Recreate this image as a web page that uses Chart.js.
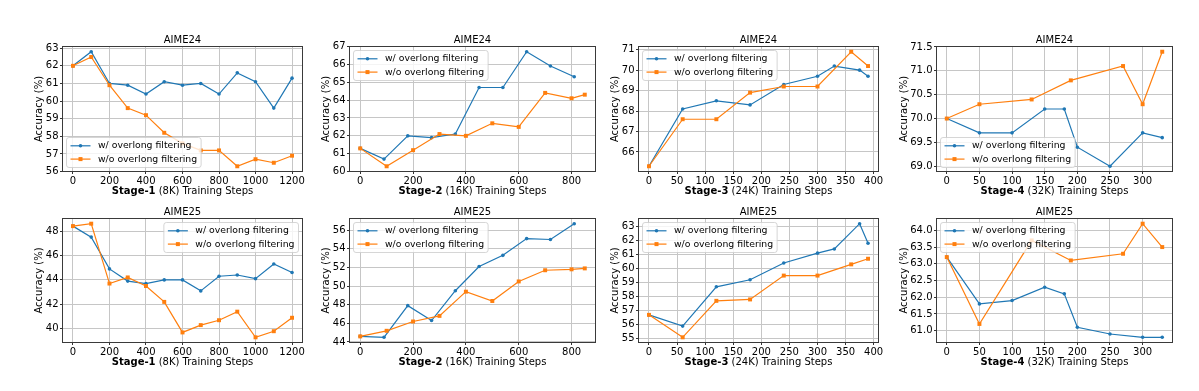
<!DOCTYPE html>
<html>
<head>
<meta charset="utf-8">
<script src="https://cdn.jsdelivr.net/npm/chart.js@4"></script>
<style>
  body { margin: 0; background: #fff; }
  #fig { position: relative; width: 1199px; height: 391px; overflow: hidden; background: #fff; }
  .panel { position: absolute; }
</style>
</head>
<body>
<div id="fig"></div>
<script>
// training steps per stage (x values)
const stage1Steps = [0, 100, 200, 300, 400, 500, 600, 700, 800, 900, 1000, 1100, 1200];
const stage2StepsWith = [0, 90, 180, 270, 360, 450, 540, 630, 720, 810];
const stage2StepsWithout = [0, 100, 200, 300, 400, 500, 600, 700, 800, 850];
const stage3StepsWith = [0, 60, 120, 180, 240, 300, 330, 375, 390];
const stage3StepsWithout = [0, 60, 120, 180, 240, 300, 360, 390];
const stage4StepsWith = [0, 50, 100, 150, 180, 200, 250, 300, 330];
const stage4StepsWithout = [0, 50, 130, 190, 270, 300, 330];

// accuracy (%) - AIME24
const s1Aime24With = [62.0, 62.8, 61.0, 60.9, 60.4, 61.1, 60.9, 61.0, 60.4, 61.6, 61.1, 59.6, 61.3];
const s1Aime24Without = [62.0, 62.5, 60.9, 59.6, 59.2, 58.2, 57.6, 57.2, 57.2, 56.3, 56.7, 56.5, 56.9];
const s2Aime24With = [61.3, 60.7, 62.0, 61.9, 62.1, 64.7, 64.7, 66.7, 65.9, 65.3];
const s2Aime24Without = [61.3, 60.3, 61.2, 62.1, 62.0, 62.7, 62.5, 64.4, 64.1, 64.3];
const s3Aime24With = [65.3, 68.1, 68.5, 68.3, 69.3, 69.7, 70.2, 70.0, 69.7];
const s3Aime24Without = [65.3, 67.6, 67.6, 68.9, 69.2, 69.2, 70.9, 70.2];
const s4Aime24With = [70.0, 69.7, 69.7, 70.2, 70.2, 69.4, 69.0, 69.7, 69.6];
const s4Aime24Without = [70.0, 70.3, 70.4, 70.8, 71.1, 70.3, 71.4];

// accuracy (%) - AIME25
const s1Aime25With = [48.4, 47.5, 44.9, 43.9, 43.7, 44.0, 44.0, 43.1, 44.3, 44.4, 44.1, 45.3, 44.6];
const s1Aime25Without = [48.4, 48.6, 43.7, 44.2, 43.5, 42.2, 39.7, 40.3, 40.7, 41.4, 39.3, 39.8, 40.9];
const s2Aime25With = [44.6, 44.5, 47.9, 46.3, 49.5, 52.1, 53.3, 55.1, 55.0, 56.7];
const s2Aime25Without = [44.6, 45.2, 46.2, 46.8, 49.4, 48.4, 50.5, 51.7, 51.8, 51.9];
const s3Aime25With = [56.7, 55.9, 58.7, 59.2, 60.4, 61.1, 61.4, 63.2, 61.8];
const s3Aime25Without = [56.7, 55.1, 57.7, 57.8, 59.5, 59.5, 60.3, 60.7];
const s4Aime25With = [63.2, 61.8, 61.9, 62.3, 62.1, 61.1, 60.9, 60.8, 60.8];
const s4Aime25Without = [63.2, 61.2, 63.7, 63.1, 63.3, 64.2, 63.5];

const seriesLabels = ['w/ overlong filtering', 'w/o overlong filtering'];
const benchmarks = ['AIME24', 'AIME25'];
const stageNames = ['Stage-1', 'Stage-2', 'Stage-3', 'Stage-4'];
const stageContexts = [' (8K) Training Steps', ' (16K) Training Steps', ' (24K) Training Steps', ' (32K) Training Steps'];

const BLUE = '#1f77b4';
const ORANGE = '#ff7f0e';
const FONT = '"DejaVu Sans", sans-serif';

Chart.defaults.font.family = FONT;
Chart.defaults.font.size = 10;
Chart.defaults.color = '#000';

// plot area of each column / row in the figure
const colLeft = [62, 349, 638, 936];
const colRight = [303, 596, 879, 1173];
const rowTop = [46, 218];
const rowBottom = [172, 343];
const YW = 60, PT = 20, PR = 8, XH = 30;

const panels = [
  { row: 0, col: 0, x: [stage1Steps, stage1Steps], y: [s1Aime24With, s1Aime24Without], xStep: 200, yStep: 1, dec: 0, legend: 'll' },
  { row: 0, col: 1, x: [stage2StepsWith, stage2StepsWithout], y: [s2Aime24With, s2Aime24Without], xStep: 200, yStep: 1, dec: 0, legend: 'ul' },
  { row: 0, col: 2, x: [stage3StepsWith, stage3StepsWithout], y: [s3Aime24With, s3Aime24Without], xStep: 50, yStep: 1, dec: 0, legend: 'ul' },
  { row: 0, col: 3, x: [stage4StepsWith, stage4StepsWithout], y: [s4Aime24With, s4Aime24Without], xStep: 50, yStep: 0.5, dec: 1, legend: 'll' },
  { row: 1, col: 0, x: [stage1Steps, stage1Steps], y: [s1Aime25With, s1Aime25Without], xStep: 200, yStep: 2, dec: 0, legend: 'ur' },
  { row: 1, col: 1, x: [stage2StepsWith, stage2StepsWithout], y: [s2Aime25With, s2Aime25Without], xStep: 200, yStep: 2, dec: 0, legend: 'ul' },
  { row: 1, col: 2, x: [stage3StepsWith, stage3StepsWithout], y: [s3Aime25With, s3Aime25Without], xStep: 50, yStep: 1, dec: 0, legend: 'ul' },
  { row: 1, col: 3, x: [stage4StepsWith, stage4StepsWithout], y: [s4Aime25With, s4Aime25Without], xStep: 50, yStep: 0.5, dec: 1, legend: 'ul' },
];

function padRange(vals) {
  const lo = Math.min(...vals), hi = Math.max(...vals);
  const m = (hi - lo) * 0.05;
  return [lo - m, hi + m];
}

function drawMarker(ctx, style, x, y, color) {
  ctx.fillStyle = color;
  if (style === 'rect') {
    ctx.fillRect(x - 2, y - 2, 4, 4);
  } else {
    ctx.beginPath();
    ctx.arc(x, y, 1.8, 0, Math.PI * 2);
    ctx.fill();
  }
}

// frame, titles and the in-axes legend (matplotlib look)
const panelDecor = {
  id: 'panelDecor',
  afterDraw(chart, args, opts) {
    const { ctx, chartArea: a } = chart;
    ctx.save();

    ctx.strokeStyle = '#3a3a3a';
    ctx.lineWidth = 1;
    ctx.strokeRect(Math.round(a.left) + 0.5, Math.round(a.top) + 0.5,
      Math.round(a.right - a.left) - 1, Math.round(a.bottom - a.top) - 1);

    ctx.fillStyle = '#000';
    ctx.font = '10px ' + FONT;
    ctx.textAlign = 'center';
    ctx.textBaseline = 'alphabetic';
    ctx.fillText(opts.title, (a.left + a.right) / 2, a.top - 3);

    // y title
    const yScale = chart.scales.y;
    let labW = 0;
    yScale.ticks.forEach(t => { labW = Math.max(labW, ctx.measureText(t.label).width); });
    const yx = a.left - 3.5 - labW - 6.2;
    ctx.save();
    ctx.translate(yx, (a.top + a.bottom) / 2);
    ctx.rotate(-Math.PI / 2);
    ctx.textBaseline = 'middle';
    ctx.fillText('Accuracy (%)', 0, 0);
    ctx.restore();

    // x title: bold stage name + normal rest
    ctx.font = 'bold 10px ' + FONT;
    const w1 = ctx.measureText(opts.xBold).width;
    ctx.font = '10px ' + FONT;
    const w2 = ctx.measureText(opts.xRest).width;
    const x0 = (a.left + a.right) / 2 - (w1 + w2) / 2;
    const by = a.bottom + 21.5;
    ctx.textAlign = 'left';
    ctx.font = 'bold 10px ' + FONT;
    ctx.fillText(opts.xBold, x0, by);
    ctx.font = '10px ' + FONT;
    ctx.fillText(opts.xRest, x0 + w1, by);

    // legend
    ctx.font = '9.3px ' + FONT;
    const tw = Math.max(...seriesLabels.map(s => ctx.measureText(s).width));
    const pad = 4, handle = 20, gap = 7.5, rowH = 13.3, inset = 4.5;
    const bw = pad + handle + gap + tw + pad;
    const bh = 30;
    const bx = opts.legend === 'ur' ? a.right - inset - bw : a.left + inset;
    const byTop = opts.legend === 'll' ? a.bottom - inset - bh : a.top + inset;
    ctx.beginPath();
    ctx.roundRect(bx, byTop, bw, bh, 2.5);
    ctx.fillStyle = 'rgba(255,255,255,0.8)';
    ctx.fill();
    ctx.strokeStyle = '#cccccc';
    ctx.lineWidth = 0.8;
    ctx.stroke();
    const cols = [BLUE, ORANGE], styles = ['circle', 'rect'];
    seriesLabels.forEach((s, i) => {
      const ry = byTop + 8.3 + i * rowH;
      ctx.strokeStyle = cols[i];
      ctx.lineWidth = 1.2;
      ctx.beginPath();
      ctx.moveTo(bx + pad, ry);
      ctx.lineTo(bx + pad + handle, ry);
      ctx.stroke();
      drawMarker(ctx, styles[i], bx + pad + handle / 2, ry, cols[i]);
      ctx.fillStyle = '#000';
      ctx.textBaseline = 'middle';
      ctx.fillText(s, bx + pad + handle + gap, ry);
    });
    ctx.restore();
  }
};

const fig = document.getElementById('fig');

panels.forEach(p => {
  const L = colLeft[p.col], R = colRight[p.col], T = rowTop[p.row], B = rowBottom[p.row];
  const box = document.createElement('div');
  box.className = 'panel';
  box.style.left = (L - YW) + 'px';
  box.style.top = (T - PT) + 'px';
  box.style.width = (YW + (R - L) + PR) + 'px';
  box.style.height = (PT + (B - T) + XH) + 'px';
  const cv = document.createElement('canvas');
  box.appendChild(cv);
  fig.appendChild(box);

  const xr = padRange(p.x[0].concat(p.x[1]));
  const yr = padRange(p.y[0].concat(p.y[1]));

  new Chart(cv, {
    type: 'line',
    data: {
      datasets: [
        {
          label: seriesLabels[0],
          data: p.x[0].map((v, i) => ({ x: v, y: p.y[0][i] })),
          borderColor: BLUE, backgroundColor: BLUE, borderWidth: 1.2,
          pointStyle: 'circle', pointRadius: 1.8, pointBorderWidth: 0,
          tension: 0, order: 1
        },
        {
          label: seriesLabels[1],
          data: p.x[1].map((v, i) => ({ x: v, y: p.y[1][i] })),
          borderColor: ORANGE, backgroundColor: ORANGE, borderWidth: 1.2,
          pointStyle: 'rect', pointRadius: 2.8, pointBorderWidth: 0,
          tension: 0, order: 0
        }
      ]
    },
    options: {
      responsive: true,
      maintainAspectRatio: false,
      animation: false,
      events: [],
      layout: { padding: { top: PT, right: PR, left: 0, bottom: 0 } },
      plugins: {
        legend: { display: false },
        tooltip: { enabled: false },
        panelDecor: {
          title: benchmarks[p.row],
          xBold: stageNames[p.col],
          xRest: stageContexts[p.col],
          legend: p.legend
        }
      },
      scales: {
        x: {
          type: 'linear',
          min: xr[0], max: xr[1],
          afterFit: s => { s.height = XH; },
          grid: { color: '#c6c6c6', lineWidth: 1, tickLength: 2, tickColor: '#333' },
          border: { display: false },
          ticks: {
            stepSize: p.xStep, includeBounds: false, autoSkip: false, maxRotation: 0, padding: 1, color: '#000',
            callback: v => String(Math.round(v))
          }
        },
        y: {
          type: 'linear',
          min: yr[0], max: yr[1],
          afterFit: s => { s.width = YW; },
          grid: { color: '#c6c6c6', lineWidth: 1, tickLength: 2, tickColor: '#333' },
          border: { display: false },
          ticks: {
            stepSize: p.yStep, includeBounds: false, padding: 1.5, color: '#000',
            callback: v => Number(v).toFixed(p.dec)
          }
        }
      }
    },
    plugins: [panelDecor]
  });
});
</script>
</body>
</html>
